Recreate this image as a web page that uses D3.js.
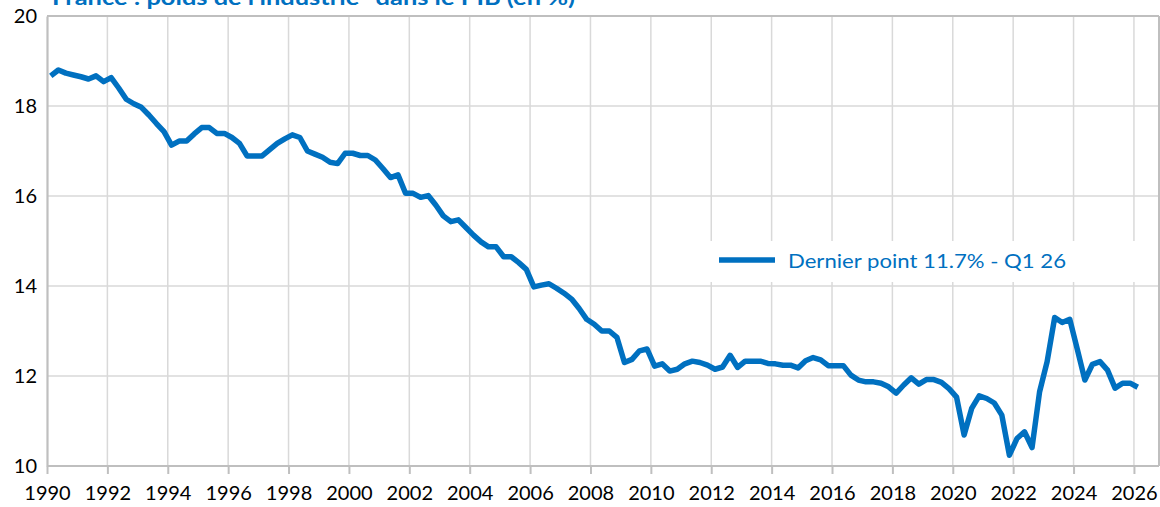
<!DOCTYPE html>
<html>
<head>
<meta charset="utf-8">
<script src="https://cdn.jsdelivr.net/npm/d3@7"></script>
<style>
  html, body { margin: 0; padding: 0; background: #fff; overflow: hidden; }
  svg { display: block; }
</style>
</head>
<body>
<svg id="chart" width="1160" height="507"></svg>
<script>
// ---- Data ----
const title = "France : poids de l'industrie* dans le PIB (en %)";
const legendLabel = "Dernier point 11.7% - Q1 26";
const startYear = 1990;
const xTickYears = [1990,1992,1994,1996,1998,2000,2002,2004,2006,2008,2010,2012,2014,2016,2018,2020,2022,2024,2026];
const yTicks = [10,12,14,16,18,20];
// quarterly values, 1990 Q1 .. 2026 Q1
const values = [
  18.67,18.80,18.73,18.69,18.65,18.60,18.67,18.54,18.63,18.40,
  18.15,18.05,17.97,17.80,17.61,17.43,17.13,17.22,17.22,17.38,
  17.52,17.52,17.39,17.39,17.30,17.17,16.89,16.89,16.89,17.03,
  17.17,17.27,17.36,17.30,17.00,16.93,16.86,16.75,16.72,16.95,
  16.95,16.90,16.90,16.80,16.61,16.41,16.47,16.06,16.06,15.97,
  16.01,15.80,15.56,15.43,15.47,15.30,15.13,14.98,14.87,14.87,
  14.65,14.65,14.52,14.37,13.98,14.02,14.05,13.95,13.84,13.71,
  13.50,13.26,13.15,13.00,13.00,12.86,12.30,12.37,12.56,12.60,
  12.22,12.27,12.11,12.15,12.27,12.33,12.30,12.24,12.15,12.20,
  12.46,12.19,12.33,12.33,12.33,12.28,12.27,12.24,12.24,12.18,
  12.34,12.41,12.36,12.23,12.23,12.23,12.02,11.91,11.87,11.87,
  11.84,11.76,11.62,11.80,11.96,11.82,11.92,11.92,11.86,11.72,
  11.53,10.69,11.28,11.56,11.50,11.40,11.13,10.24,10.61,10.76,
  10.41,11.65,12.32,13.30,13.19,13.26,12.59,11.91,12.26,12.32,
  12.13,11.73,11.84,11.84,11.75
];

// ---- Layout ----
const svg = d3.select("#chart");
const pLeft = 47, pRight = 1159, pTop = 16, pBottom = 466;
const blue = "#0070C0";
const font = "Lato, 'Open Sans', 'Liberation Sans', sans-serif";

const x = d3.scaleLinear().domain([1990, 2026.83]).range([pLeft, pRight]);
const y = d3.scaleLinear().domain([10, 20]).range([pBottom, pTop]);

const data = values.map((v, i) => ({ t: startYear + i * 0.25 + 0.125, v }));

// gridlines
const grid = svg.append("g");
grid.selectAll("line.v").data(xTickYears.slice(1)).join("line")
  .attr("x1", d => x(d)).attr("x2", d => x(d))
  .attr("y1", pTop).attr("y2", pBottom)
  .attr("stroke", "#d9d9d9").attr("stroke-width", 1.5);
grid.selectAll("line.h").data(yTicks.slice(1)).join("line")
  .attr("x1", pLeft).attr("x2", pRight)
  .attr("y1", d => y(d)).attr("y2", d => y(d))
  .attr("stroke", "#d9d9d9").attr("stroke-width", 1.5);

// plot border (top/right)
svg.append("line").attr("x1", pLeft).attr("x2", pRight).attr("y1", pTop).attr("y2", pTop)
  .attr("stroke", "#bfbfbf").attr("stroke-width", 2);
svg.append("line").attr("x1", pRight).attr("x2", pRight).attr("y1", pTop).attr("y2", pBottom)
  .attr("stroke", "#bfbfbf").attr("stroke-width", 2);

// x axis
const xAxis = d3.axisBottom(x).tickValues(xTickYears).tickFormat(d3.format("d"))
  .tickSize(8).tickPadding(12);
const gx = svg.append("g").attr("transform", `translate(0,${pBottom})`).call(xAxis);
gx.select(".domain").attr("stroke", "#bfbfbf").attr("stroke-width", 2.2)
  .attr("d", `M${pLeft},0H${pRight}`);
gx.selectAll(".tick line").attr("stroke", "#bfbfbf").attr("stroke-width", 2);
gx.selectAll(".tick text").attr("font-family", font).attr("font-size", 20).attr("fill", "#000");

// y axis
const yAxis = d3.axisLeft(y).tickValues(yTicks).tickSize(0).tickPadding(10);
const gy = svg.append("g").attr("transform", `translate(${pLeft},0)`).call(yAxis);
gy.select(".domain").attr("stroke", "#bfbfbf").attr("stroke-width", 2.2);
gy.selectAll(".tick text").attr("font-family", font).attr("font-size", 20).attr("fill", "#000")
  .attr("text-anchor", "end");

// line
const line = d3.line().x(d => x(d.t)).y(d => y(d.v));
svg.append("path").datum(data)
  .attr("d", line).attr("fill", "none")
  .attr("stroke", blue).attr("stroke-width", 5.5)
  .attr("stroke-linejoin", "round").attr("stroke-linecap", "butt");

// legend
const lg = svg.append("g");
lg.append("rect").attr("x", 704).attr("y", 241).attr("width", 441).attr("height", 41).attr("fill", "#fff");
lg.append("line").attr("x1", 719).attr("x2", 775).attr("y1", 260).attr("y2", 260)
  .attr("stroke", blue).attr("stroke-width", 5.5);
lg.append("text").attr("x", 788).attr("y", 261).attr("dy", "0.35em")
  .attr("font-family", font).attr("font-size", 20).attr("fill", blue)
  .attr("textLength", 278).attr("lengthAdjust", "spacingAndGlyphs")
  .text(legendLabel);

// title (partially clipped at top, as in reference)
svg.append("text").attr("x", 52).attr("y", 5)
  .attr("font-family", font).attr("font-size", 21).attr("font-weight", "bold").attr("fill", blue)
  .attr("textLength", 523).attr("lengthAdjust", "spacingAndGlyphs")
  .text(title);
</script>
</body>
</html>
